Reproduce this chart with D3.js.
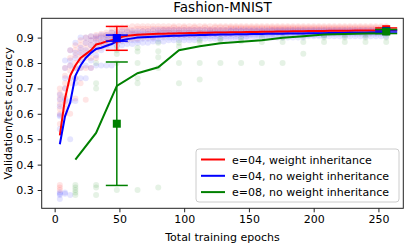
<!DOCTYPE html>
<html>
<head>
<meta charset="utf-8">
<script src="https://cdn.jsdelivr.net/npm/d3@7"></script>
<style>
  body { margin: 0; background: #fff; }
  text { font-family: "DejaVu Sans", sans-serif; fill: #000; }
</style>
</head>
<body>
<svg width="407" height="244"></svg>
<script>
// epochs for the e=04 runs, and for the e=08 runs
var epochs4 = [4,8,12,16,20,24,28,32,36,40,44,48,52,56,60,64,68,72,76,80,84,88,92,96,100,104,108,112,116,120,124,128,
               132,136,140,144,148,152,156,160,164,168,172,176,180,184,188,192,196,200,204,208,212,216,220,224,228,232,236,240,244,248,252,256];
var epochs8 = [16,32,48,64,80,96,112,128,144,160,176,192,208,224,240,256];

// mean curves
var redMean = [0.515,0.66,0.75,0.79,0.82,0.835,0.85,0.873,0.878,0.885,0.89,0.895,0.903,0.907,0.909,0.911,0.912,0.913,0.914,0.915,0.915,0.916,0.916,0.917,0.917,0.918,0.918,0.919,
               0.919,0.919,0.92,0.92,0.92,0.921,0.921,0.921,0.922,0.922,0.922,0.923,0.923,0.923,0.924,0.924,0.924,0.925,0.925,0.925,0.926,0.926,0.926,0.926,0.927,0.927,0.927,0.927,0.927,0.928,0.928,0.928,0.928,0.928,0.928,0.928];
var blueMean = [0.48,0.59,0.645,0.75,0.79,0.82,0.84,0.855,0.86,0.868,0.875,0.885,0.89,0.894,0.897,0.9,0.901,0.902,0.903,0.904,0.905,0.906,0.907,0.907,0.908,0.909,0.909,0.91,
                0.91,0.911,0.911,0.912,0.912,0.912,0.913,0.913,0.913,0.914,0.914,0.914,0.915,0.915,0.915,0.915,0.916,0.916,0.916,0.916,0.917,0.917,0.917,0.917,0.918,0.918,0.918,0.918,0.919,0.919,0.919,0.919,0.92,0.92,0.92,0.92];
var greenMean = [0.42,0.525,0.71,0.76,0.783,0.85,0.866,0.878,0.884,0.89,0.899,0.905,0.912,0.914,0.916,0.917];

// individual runs (faint dots), one list per epoch
var redDots = [
  [0.70,0.68,0.66,0.64,0.62,0.60,0.56,0.32,0.31,0.30],
  [0.78,0.75,0.72,0.70,0.67,0.64,0.62,0.60],
  [0.85,0.82,0.79,0.77,0.72,0.60],
  [0.87,0.85,0.83,0.80,0.78,0.74,0.66],
  [0.89,0.87,0.85,0.83,0.81,0.78,0.72],
  [0.90,0.88,0.86,0.84,0.82,0.78,0.655],
  [0.905,0.89,0.87,0.85,0.82,0.78],
  [0.91,0.90,0.89,0.87,0.85,0.82],
  [0.915,0.905,0.89,0.88,0.86],
  [0.92,0.91,0.90,0.885,0.87],
  [0.935,0.92,0.91,0.90,0.885],
  [0.94,0.925,0.915,0.90,0.885],
  [0.94,0.93,0.915,0.905,0.89],
  [0.94,0.93,0.92,0.905,0.89],
  [0.945,0.93,0.92,0.91,0.895],
  [0.945,0.935,0.92,0.91,0.895],
  [0.945,0.935,0.925,0.91,0.90],
  [0.945,0.935,0.925,0.915,0.90],
  [0.945,0.935,0.925,0.915,0.90],
  [0.945,0.935,0.925,0.915,0.905],
  [0.945,0.935,0.93,0.92,0.905],
  [0.945,0.935,0.93,0.92,0.91],
  [0.945,0.94,0.93,0.92,0.91],
  [0.945,0.935,0.93,0.92,0.91],
  [0.945,0.94,0.93,0.92,0.91],
  [0.945,0.935,0.93,0.92,0.91],
  [0.945,0.94,0.93,0.92,0.91],
  [0.945,0.935,0.93,0.92,0.915],
  [0.945,0.94,0.93,0.92,0.915],
  [0.945,0.935,0.93,0.925,0.915],
  [0.945,0.94,0.93,0.925,0.915],
  [0.945,0.94,0.93,0.925,0.915],
  [0.945,0.94,0.93,0.925,0.915],
  [0.945,0.94,0.935,0.925,0.915],
  [0.945,0.94,0.935,0.925,0.915],
  [0.945,0.94,0.935,0.925,0.915],
  [0.945,0.94,0.935,0.925,0.915],
  [0.945,0.94,0.935,0.925,0.92],
  [0.945,0.94,0.935,0.925,0.92],
  [0.945,0.94,0.935,0.925,0.92],
  [0.945,0.94,0.935,0.925,0.92],
  [0.945,0.94,0.935,0.93,0.92],
  [0.945,0.94,0.935,0.93,0.92],
  [0.945,0.94,0.935,0.93,0.92],
  [0.945,0.94,0.935,0.93,0.92],
  [0.945,0.94,0.935,0.93,0.92],
  [0.945,0.94,0.935,0.93,0.92],
  [0.945,0.94,0.935,0.93,0.92],
  [0.945,0.94,0.935,0.93,0.92],
  [0.945,0.94,0.935,0.93,0.92],
  [0.945,0.94,0.935,0.93,0.92],
  [0.945,0.94,0.935,0.93,0.92],
  [0.945,0.94,0.935,0.93,0.92],
  [0.945,0.94,0.935,0.93,0.92],
  [0.945,0.94,0.935,0.93,0.92],
  [0.945,0.94,0.935,0.93,0.92],
  [0.945,0.94,0.935,0.93,0.92],
  [0.945,0.94,0.935,0.93,0.92],
  [0.945,0.94,0.935,0.93,0.92],
  [0.945,0.94,0.935,0.93,0.92],
  [0.945,0.94,0.935,0.93,0.92],
  [0.945,0.94,0.935,0.93,0.92],
  [0.945,0.94,0.935,0.93,0.92],
  [0.945,0.94,0.935,0.93,0.92]
];
var blueDots = [
  [0.675,0.655,0.63,0.595,0.59,0.54,0.29,0.285,0.28,0.265],
  [0.81,0.78,0.74,0.70,0.66,0.65,0.29,0.285],
  [0.85,0.81,0.79,0.74,0.65,0.50,0.28],
  [0.88,0.84,0.82,0.78,0.74,0.72,0.65],
  [0.90,0.86,0.84,0.81,0.78,0.74],
  [0.90,0.88,0.85,0.83,0.79,0.74],
  [0.905,0.89,0.87,0.84,0.81,0.78],
  [0.905,0.895,0.88,0.86,0.83,0.79],
  [0.91,0.90,0.885,0.87,0.85,0.79],
  [0.91,0.90,0.89,0.875,0.86,0.79],
  [0.92,0.905,0.895,0.88,0.865,0.79],
  [0.92,0.91,0.895,0.885,0.87],
  [0.925,0.91,0.90,0.885,0.87],
  [0.925,0.91,0.90,0.89,0.875],
  [0.925,0.915,0.90,0.89,0.875],
  [0.925,0.915,0.905,0.89,0.88],
  [0.925,0.915,0.905,0.895,0.88],
  [0.925,0.915,0.905,0.895,0.88],
  [0.93,0.915,0.905,0.895,0.885],
  [0.93,0.92,0.91,0.895,0.885],
  [0.93,0.92,0.91,0.90,0.885],
  [0.93,0.92,0.91,0.90,0.89],
  [0.93,0.92,0.91,0.90,0.89],
  [0.93,0.92,0.91,0.90,0.89],
  [0.93,0.92,0.91,0.90,0.89],
  [0.93,0.92,0.91,0.90,0.89],
  [0.93,0.92,0.91,0.90,0.89],
  [0.93,0.92,0.91,0.905,0.895],
  [0.93,0.92,0.91,0.905,0.895],
  [0.93,0.92,0.915,0.905,0.895],
  [0.93,0.92,0.915,0.905,0.895],
  [0.93,0.92,0.915,0.905,0.895],
  [0.93,0.92,0.915,0.905,0.895],
  [0.93,0.925,0.915,0.905,0.895],
  [0.93,0.925,0.915,0.905,0.895],
  [0.93,0.925,0.915,0.905,0.90],
  [0.93,0.925,0.915,0.905,0.90],
  [0.93,0.925,0.915,0.91,0.90],
  [0.93,0.925,0.915,0.91,0.90],
  [0.93,0.925,0.915,0.91,0.90],
  [0.93,0.925,0.915,0.91,0.90],
  [0.93,0.925,0.915,0.91,0.90],
  [0.93,0.925,0.92,0.91,0.90],
  [0.93,0.925,0.92,0.91,0.90],
  [0.93,0.925,0.92,0.91,0.90],
  [0.93,0.925,0.92,0.91,0.90],
  [0.93,0.925,0.92,0.91,0.90],
  [0.93,0.925,0.92,0.91,0.90],
  [0.93,0.925,0.92,0.91,0.905],
  [0.93,0.925,0.92,0.91,0.905],
  [0.93,0.925,0.92,0.91,0.905],
  [0.93,0.925,0.92,0.91,0.905],
  [0.93,0.925,0.92,0.915,0.905],
  [0.93,0.925,0.92,0.915,0.905],
  [0.93,0.925,0.92,0.915,0.905],
  [0.93,0.925,0.92,0.915,0.905],
  [0.93,0.925,0.92,0.915,0.905],
  [0.93,0.925,0.92,0.915,0.905],
  [0.93,0.925,0.92,0.915,0.905],
  [0.93,0.925,0.92,0.915,0.905],
  [0.93,0.925,0.92,0.915,0.905],
  [0.93,0.925,0.92,0.915,0.905],
  [0.93,0.925,0.92,0.915,0.905],
  [0.93,0.925,0.92,0.915,0.905]
];
var greenDots = [
  [0.32,0.31,0.30,0.29,0.28],
  [0.80,0.72,0.70,0.32,0.31,0.28],
  [0.865,0.85,0.835,0.80,0.30],
  [0.86,0.845,0.80,0.74,0.72,0.30],
  [0.88,0.846,0.823,0.78,0.31],
  [0.88,0.865,0.80,0.72],
  [0.89,0.883,0.80,0.735],
  [0.895,0.886,0.80],
  [0.895,0.886,0.80],
  [0.90,0.883,0.80],
  [0.90,0.883,0.80],
  [0.905,0.883,0.836],
  [0.91,0.90,0.883],
  [0.91,0.90,0.883],
  [0.91,0.90,0.883],
  [0.92,0.90,0.883]
];

// error bars: epoch, mean, half-width
var redErr = [[48, 0.897, 0.047], [256, 0.933, 0.005]];
var blueErr = [[48, 0.898, 0.012], [256, 0.926, 0.004]];
var greenErr = [[48, 0.561, 0.243], [256, 0.924, 0.008]];

var seriesNames = ["e=04, weight inheritance", "e=04, no weight inheritance", "e=08, no weight inheritance"];
var colors = ["#ff0000", "#0000ff", "#008000"];
var xTicks = [0, 50, 100, 150, 200, 250];
var yTicks = [0.3, 0.4, 0.5, 0.6, 0.7, 0.8, 0.9];

var svg = d3.select("svg");
var pLeft = 41.7, pRight = 403.3, pTop = 18.3, pBottom = 208.3;

var x = d3.scaleLinear().domain([-10, 269.2]).range([pLeft, pRight]);
var y = d3.scaleLinear().domain([0.228, 0.976]).range([pBottom, pTop]);

var plot = svg.append("g");

function dots(ep, lists, color) {
  var pts = [];
  ep.forEach(function(e, i) {
    lists[i].forEach(function(v) { pts.push([e, v]); });
  });
  plot.append("g").selectAll("circle")
    .data(pts)
    .enter()
    .append("circle")
    .attr("cx", function(d) { return x(d[0]); })
    .attr("cy", function(d) { return y(d[1]); })
    .attr("r", 3)
    .attr("fill", color)
    .attr("fill-opacity", 0.1);
}
dots(epochs4, redDots, colors[0]);
dots(epochs4, blueDots, colors[1]);
dots(epochs8, greenDots, colors[2]);

var line = d3.line()
  .x(function(d) { return x(d[0]); })
  .y(function(d) { return y(d[1]); });

function curve(ep, vals, color) {
  plot.append("path")
    .datum(d3.zip(ep, vals))
    .attr("d", line)
    .attr("fill", "none")
    .attr("stroke", color)
    .attr("stroke-width", 2);
}
curve(epochs4, redMean, colors[0]);
curve(epochs4, blueMean, colors[1]);
curve(epochs8, greenMean, colors[2]);

function errbars(data, color) {
  var g = plot.append("g").attr("stroke", color).attr("stroke-width", 1.5);
  data.forEach(function(d) {
    var cx = x(d[0]), hi = y(d[1] + d[2]), lo = y(d[1] - d[2]);
    g.append("line").attr("x1", cx).attr("x2", cx).attr("y1", hi).attr("y2", lo);
    g.append("line").attr("x1", cx - 11).attr("x2", cx + 11).attr("y1", hi).attr("y2", hi);
    g.append("line").attr("x1", cx - 11).attr("x2", cx + 11).attr("y1", lo).attr("y2", lo);
    g.append("rect")
      .attr("x", cx - 4).attr("y", y(d[1]) - 4)
      .attr("width", 8).attr("height", 8)
      .attr("fill", color).attr("stroke", "none");
  });
}
errbars(redErr, colors[0]);
errbars(blueErr, colors[1]);
errbars(greenErr, colors[2]);

// frame
svg.append("rect")
  .attr("x", pLeft).attr("y", pTop)
  .attr("width", pRight - pLeft).attr("height", pBottom - pTop)
  .attr("fill", "none").attr("stroke", "#222").attr("stroke-width", 1);

// axes
var xAxis = svg.append("g")
  .attr("transform", "translate(0," + pBottom + ")")
  .call(d3.axisBottom(x).tickValues(xTicks).tickSize(4).tickPadding(3).tickFormat(d3.format("d")));
var yAxis = svg.append("g")
  .attr("transform", "translate(" + pLeft + ",0)")
  .call(d3.axisLeft(y).tickValues(yTicks).tickSize(4).tickPadding(4).tickFormat(d3.format(".1f")));
[xAxis, yAxis].forEach(function(a) {
  a.select(".domain").remove();
  a.selectAll("line").attr("stroke", "#222");
  a.selectAll("text").attr("font-size", 11).attr("font-family", "DejaVu Sans").attr("fill", "#000");
});

svg.append("text")
  .attr("x", (pLeft + pRight) / 2).attr("y", 12)
  .attr("text-anchor", "middle").attr("font-size", 13.5)
  .text("Fashion-MNIST");
svg.append("text")
  .attr("x", (pLeft + pRight) / 2).attr("y", 241)
  .attr("text-anchor", "middle").attr("font-size", 11)
  .text("Total training epochs");
svg.append("text")
  .attr("transform", "translate(12," + ((pTop + pBottom) / 2) + ") rotate(-90)")
  .attr("text-anchor", "middle").attr("font-size", 11)
  .text("Validation/test accuracy");

// legend
var lg = svg.append("g").attr("transform", "translate(196,149)");
lg.append("rect")
  .attr("width", 203).attr("height", 53).attr("rx", 3)
  .attr("fill", "#fff").attr("fill-opacity", 0.8)
  .attr("stroke", "#ccc").attr("stroke-width", 1);
seriesNames.forEach(function(name, i) {
  var yy = 10.5 + i * 16.3;
  lg.append("line")
    .attr("x1", 5).attr("x2", 29).attr("y1", yy).attr("y2", yy)
    .attr("stroke", colors[i]).attr("stroke-width", 2);
  lg.append("text")
    .attr("x", 36).attr("y", yy + 4).attr("font-size", 11)
    .text(name);
});
</script>
</body>
</html>
